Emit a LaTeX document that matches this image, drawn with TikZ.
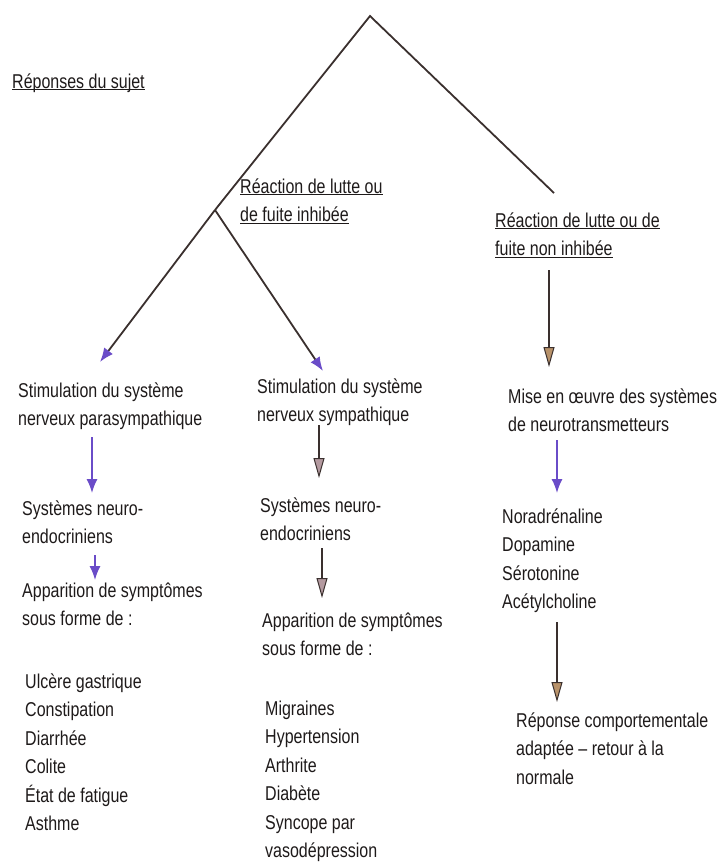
\documentclass[tikz,border=0pt]{standalone}
\usepackage{fontspec}
\setmainfont[FakeStretch=0.8]{Liberation Sans}
\usepackage[HTML]{xcolor}
\usepackage{tikz}
\usetikzlibrary{arrows.meta}

\definecolor{ligne}{HTML}{3A302E}
\definecolor{encre}{HTML}{1E1A1A}
\definecolor{violette}{HTML}{6A4CC8}
\definecolor{grisrose}{HTML}{B49AA0}
\definecolor{brun}{HTML}{B8926A}

\newcommand{\souligne}[1]{\underline{\smash{#1}}}

\tikzset{
  texte/.style={anchor=north west, inner sep=0pt, align=left, text=encre,
    font=\fontsize{20}{28.5}\selectfont},
  branche/.style={draw=ligne, line width=1.8pt},
  flecheviolette/.style={draw=violette, line width=1.5pt,
    -{Latex[length=14pt,width=11pt,color=violette]}},
  flechegrise/.style={draw=ligne, line width=1.4pt,
    -{Triangle[length=20pt,width=11pt,fill=grisrose,color=ligne,line width=1pt]}},
  flechebrune/.style={draw=ligne, line width=1.4pt,
    -{Triangle[length=20pt,width=11pt,fill=brun,color=ligne,line width=1pt]}}
}

\begin{document}
\begin{tikzpicture}[x=1pt,y=-1pt]
\useasboundingbox (0,0) rectangle (720,863);
% titles
\node[texte] (titre) at (12,68) {\strut\souligne{Réponses du sujet}};
\node[texte] (lutteA) at (240,173) {\strut\souligne{Réaction de lutte ou}\\\souligne{de fuite inhibée}\strut};
\node[texte] (lutteB) at (495,207) {\strut\souligne{Réaction de lutte ou de}\\\souligne{fuite non inhibée}\strut};
% left column
\node[texte] (stimA) at (18,377) {\strut Stimulation du système\\nerveux parasympathique\strut};
\node[texte] (neuroA) at (22,495) {\strut Systèmes neuro-\\endocriniens\strut};
\node[texte] (apparA) at (22,577) {\strut Apparition de symptômes\\sous forme de :\strut};
\node[texte] (listeA) at (25,668) {\strut Ulcère gastrique\\Constipation\\Diarrhée\\Colite\\État de fatigue\\Asthme\strut};
% middle column
\node[texte] (stimB) at (257,373) {\strut Stimulation du système\\nerveux sympathique\strut};
\node[texte] (neuroB) at (260,492) {\strut Systèmes neuro-\\endocriniens\strut};
\node[texte] (apparB) at (262,607) {\strut Apparition de symptômes\\sous forme de :\strut};
\node[texte] (listeB) at (265,695) {\strut Migraines\\Hypertension\\Arthrite\\Diabète\\Syncope par\\vasodépression\strut};
% right column
\node[texte] (miseC) at (508,383) {\strut Mise en œuvre des systèmes\\de neurotransmetteurs\strut};
\node[texte] (listeC) at (502,503) {\strut Noradrénaline\\Dopamine\\Sérotonine\\Acétylcholine\strut};
\node[texte] (reponseC) at (516,707) {\strut Réponse comportementale\\adaptée – retour à la\\normale\strut};

% tree
\coordinate (sommet) at (370,16);
\coordinate (fourche) at (215,210);
\coordinate (finD) at (554,193);
\draw[branche] (finD) -- (sommet) -- (fourche);
\draw[branche, -{Latex[length=14pt,width=11pt,color=violette]}] (fourche) -- ([xshift=82pt,yshift=15pt]stimA.north west);
\draw[branche, -{Latex[length=14pt,width=11pt,color=violette]}] (fourche) -- ([xshift=66pt,yshift=2pt]stimB.north west);

% vertical arrows
\draw[flecheviolette] ([xshift=74pt,yshift=-3pt]stimA.south west) -- ([xshift=70pt,yshift=2pt]neuroA.north west);
\draw[flecheviolette] ([xshift=73pt,yshift=-3pt]neuroA.south west) -- ([xshift=73pt,yshift=-3pt]apparA.north west);
\draw[flechegrise] ([xshift=62pt,yshift=5pt]stimB.south west) -- ([xshift=59pt,yshift=14pt]neuroB.north west);
\draw[flechegrise] ([xshift=62pt,yshift=1pt]neuroB.south west) -- ([xshift=60pt,yshift=9pt]apparB.north west);
\draw[flechebrune] ([xshift=54pt,yshift=-6pt]lutteB.south west) -- ([xshift=41pt,yshift=16pt]miseC.north west);
\draw[flecheviolette] ([xshift=49pt,yshift=0pt]miseC.south west) -- ([xshift=55pt,yshift=10pt]listeC.north west);
\draw[flechebrune] ([xshift=55pt,yshift=-5pt]listeC.south west) -- ([xshift=41pt,yshift=5pt]reponseC.north west);
\end{tikzpicture}
\end{document}
